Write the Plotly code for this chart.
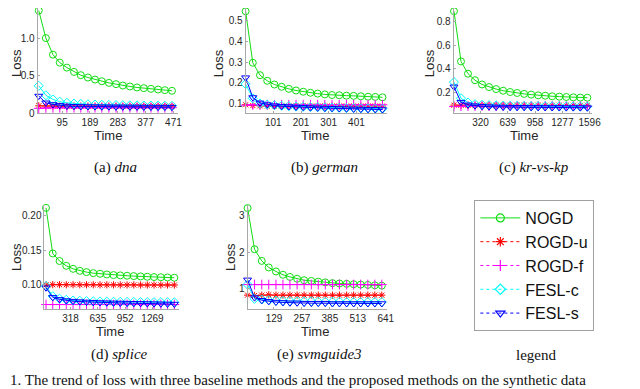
import plotly.graph_objects as go

W, H = 640, 389

methods = ["NOGD", "ROGD-u", "ROGD-f", "FESL-c", "FESL-s"]
colors = ["#11dd11", "#ff0000", "#ff00ff", "#00ffff", "#0000ff"]
symbols = ["circle-open", "asterisk-open", "cross-thin-open", "diamond-open", "triangle-down-open"]

# ---- (a) dna ----
dna_t = [16, 40, 64, 87, 111, 135, 158, 182, 206, 229, 253, 277, 300, 324, 348, 371, 395, 419, 442, 466]
dna_nogd = [1.366, 1.0, 0.78, 0.674, 0.608, 0.551, 0.507, 0.476, 0.449, 0.427, 0.405, 0.388, 0.37, 0.357, 0.344, 0.335, 0.326, 0.317, 0.308, 0.300]
dna_rogdu = [0.10, 0.097, 0.096, 0.095, 0.095, 0.095, 0.095, 0.095, 0.095, 0.095, 0.095, 0.095, 0.095, 0.095, 0.095, 0.095, 0.095, 0.095, 0.095, 0.095]
dna_rogdf = [0.066, 0.072, 0.074, 0.075, 0.075, 0.075, 0.075, 0.075, 0.075, 0.075, 0.075, 0.075, 0.075, 0.075, 0.075, 0.075, 0.075, 0.075, 0.075, 0.075]
dna_feslc = [0.366, 0.24, 0.185, 0.155, 0.14, 0.13, 0.125, 0.12, 0.117, 0.114, 0.112, 0.11, 0.108, 0.106, 0.105, 0.104, 0.103, 0.102, 0.101, 0.10]
dna_fesls = [0.23, 0.14, 0.118, 0.106, 0.098, 0.094, 0.092, 0.09, 0.089, 0.088, 0.087, 0.086, 0.086, 0.085, 0.085, 0.084, 0.084, 0.083, 0.083, 0.082]
dna_ticks = [95, 189, 283, 377, 471]
dna_yticks = [0, 0.5, 1.0]
dna_yticktext = ["0", "0.5", "1.0"]

# ---- (b) german ----
ger_t = [1, 27, 53, 79, 105, 131, 157, 183, 209, 235, 261, 287, 313, 339, 365, 391, 417, 443, 469, 495]
ger_nogd = [0.546, 0.297, 0.237, 0.21, 0.192, 0.181, 0.171, 0.163, 0.157, 0.152, 0.148, 0.144, 0.141, 0.14, 0.138, 0.137, 0.135, 0.133, 0.132, 0.13]
ger_rogdu = [0.094, 0.09, 0.089, 0.088, 0.088, 0.088, 0.088, 0.088, 0.088, 0.088, 0.088, 0.088, 0.088, 0.088, 0.088, 0.088, 0.088, 0.088, 0.088, 0.088]
ger_rogdf = [0.092, 0.094, 0.094, 0.094, 0.094, 0.094, 0.094, 0.094, 0.094, 0.094, 0.094, 0.094, 0.094, 0.094, 0.094, 0.094, 0.094, 0.094, 0.094, 0.094]
ger_feslc = [0.194, 0.125, 0.1, 0.095, 0.092, 0.089, 0.087, 0.085, 0.084, 0.083, 0.082, 0.081, 0.08, 0.079, 0.078, 0.078, 0.077, 0.076, 0.075, 0.075]
ger_fesls = [0.225, 0.129, 0.103, 0.095, 0.09, 0.087, 0.085, 0.083, 0.082, 0.08, 0.079, 0.078, 0.077, 0.076, 0.075, 0.074, 0.073, 0.072, 0.072, 0.071]
ger_ticks = [101, 201, 301, 401]
ger_yticks = [0.1, 0.2, 0.3, 0.4, 0.5]
ger_yticktext = ["0.1", "0.2", "0.3", "0.4", "0.5"]

# ---- (c) kr-vs-kp ----
kr_t = [9, 91, 173, 255, 337, 419, 502, 584, 666, 748, 830, 912, 994, 1076, 1158, 1241, 1323, 1405, 1487, 1569]
kr_nogd = [0.887, 0.462, 0.358, 0.303, 0.267, 0.245, 0.228, 0.214, 0.203, 0.195, 0.187, 0.181, 0.175, 0.172, 0.167, 0.164, 0.161, 0.158, 0.156, 0.155]
kr_rogdu = [0.092, 0.091, 0.09, 0.09, 0.09, 0.09, 0.09, 0.09, 0.09, 0.09, 0.09, 0.09, 0.09, 0.09, 0.09, 0.09, 0.09, 0.09, 0.09, 0.09]
kr_rogdf = [0.08, 0.083, 0.084, 0.084, 0.084, 0.084, 0.084, 0.084, 0.084, 0.084, 0.084, 0.084, 0.084, 0.084, 0.084, 0.084, 0.084, 0.084, 0.084, 0.084]
kr_feslc = [0.287, 0.15, 0.114, 0.1, 0.095, 0.092, 0.09, 0.088, 0.087, 0.086, 0.085, 0.084, 0.084, 0.083, 0.083, 0.082, 0.082, 0.081, 0.081, 0.08]
kr_fesls = [0.247, 0.117, 0.095, 0.087, 0.082, 0.079, 0.077, 0.076, 0.075, 0.074, 0.074, 0.073, 0.073, 0.072, 0.072, 0.072, 0.071, 0.071, 0.071, 0.07]
kr_ticks = [320, 639, 958, 1277, 1596]
kr_yticks = [0.2, 0.4, 0.6, 0.8]
kr_yticktext = ["0.2", "0.4", "0.6", "0.8"]

# ---- (d) splice ----
sp_t = [33, 111, 190, 268, 347, 425, 503, 582, 660, 739, 817, 895, 974, 1052, 1131, 1209, 1287, 1366, 1444, 1523]
sp_nogd = [0.2115, 0.145, 0.134, 0.127, 0.1226, 0.1197, 0.1178, 0.1163, 0.1154, 0.1144, 0.1135, 0.113, 0.1125, 0.112, 0.1115, 0.111, 0.1106, 0.1103, 0.110, 0.1096]
sp_rogdu = [0.099, 0.0995, 0.0995, 0.0994, 0.0994, 0.0993, 0.0993, 0.0993, 0.0992, 0.0992, 0.0992, 0.0991, 0.0991, 0.0991, 0.099, 0.099, 0.099, 0.099, 0.099, 0.099]
sp_rogdf = [0.0705, 0.0705, 0.0705, 0.0705, 0.0705, 0.0705, 0.0705, 0.0705, 0.0705, 0.0705, 0.0705, 0.0705, 0.0705, 0.0705, 0.0705, 0.0705, 0.0705, 0.0705, 0.0705, 0.0705]
sp_feslc = [0.0976, 0.0827, 0.079, 0.0774, 0.0764, 0.076, 0.0755, 0.0752, 0.075, 0.0748, 0.0746, 0.0745, 0.0744, 0.0743, 0.0742, 0.0741, 0.074, 0.074, 0.0739, 0.0738]
sp_fesls = [0.095, 0.081, 0.078, 0.0764, 0.0755, 0.0748, 0.0743, 0.0738, 0.0735, 0.0732, 0.073, 0.0728, 0.0726, 0.0724, 0.0722, 0.072, 0.0718, 0.0716, 0.0714, 0.0712]
sp_ticks = [318, 635, 952, 1269]
sp_yticks = [0.10, 0.15, 0.20]
sp_yticktext = ["0.10", "0.15", "0.20"]

# ---- (e) svmguide3 ----
svm_t = [8, 40, 73, 105, 138, 170, 202, 235, 267, 300, 332, 364, 397, 429, 462, 494, 526, 559, 591, 623]
svm_nogd = [3.21, 2.08, 1.76, 1.58, 1.47, 1.38, 1.32, 1.27, 1.23, 1.21, 1.19, 1.17, 1.15, 1.14, 1.13, 1.12, 1.11, 1.10, 1.09, 1.08]
svm_rogdu = [0.82, 0.81, 0.82, 0.83, 0.82, 0.82, 0.82, 0.82, 0.82, 0.82, 0.82, 0.82, 0.82, 0.82, 0.82, 0.82, 0.82, 0.82, 0.82, 0.82]
svm_rogdf = [1.11, 1.11, 1.11, 1.11, 1.11, 1.11, 1.11, 1.11, 1.11, 1.11, 1.11, 1.11, 1.11, 1.11, 1.11, 1.11, 1.11, 1.11, 1.11, 1.11]
svm_feslc = [1.11, 0.72, 0.70, 0.68, 0.67, 0.66, 0.66, 0.65, 0.65, 0.65, 0.64, 0.64, 0.64, 0.64, 0.63, 0.63, 0.63, 0.63, 0.63, 0.63]
svm_fesls = [1.24, 0.75, 0.68, 0.65, 0.63, 0.62, 0.61, 0.61, 0.60, 0.60, 0.60, 0.60, 0.59, 0.59, 0.59, 0.59, 0.59, 0.59, 0.59, 0.59]
svm_ticks = [129, 257, 385, 513, 641]
svm_yticks = [1, 2, 3]
svm_yticktext = ["1", "2", "3"]

captions = ["(a) <i>dna</i>", "(b) <i>german</i>", "(c) <i>kr-vs-kp</i>",
            "(d) <i>splice</i>", "(e) <i>svmguide3</i>", "legend"]
bottom_caption = "1. The trend of loss with three baseline methods and the proposed methods on the synthetic data"

panels = [
    dict(t=dna_t, ys=[dna_nogd, dna_rogdu, dna_rogdf, dna_feslc, dna_fesls], xt=dna_ticks,
         yt=dna_yticks, ytt=dna_yticktext, xpx=(30, 172), ypx=(0, 107), xr=[12, 485], yr=[0, 1.40]),
    dict(t=ger_t, ys=[ger_nogd, ger_rogdu, ger_rogdf, ger_feslc, ger_fesls], xt=ger_ticks,
         yt=ger_yticks, ytt=ger_yticktext, xpx=(241, 384), ypx=(0, 107), xr=[1, 510], yr=[0.0524, 0.562]),
    dict(t=kr_t, ys=[kr_nogd, kr_rogdu, kr_rogdf, kr_feslc, kr_fesls], xt=kr_ticks,
         yt=kr_yticks, ytt=kr_yticktext, xpx=(452, 592), ypx=(0, 107), xr=[5, 1620], yr=[0.0225, 0.914]),
    dict(t=sp_t, ys=[sp_nogd, sp_rogdu, sp_rogdf, sp_feslc, sp_fesls], xt=sp_ticks,
         yt=sp_yticks, ytt=sp_yticktext, xpx=(37, 173), ypx=(200, 306), xr=[15, 1572], yr=[0.0636, 0.2158]),
    dict(t=svm_t, ys=[svm_nogd, svm_rogdu, svm_rogdf, svm_feslc, svm_fesls], xt=svm_ticks,
         yt=svm_yticks, ytt=svm_yticktext, xpx=(243, 384), ypx=(200, 306), xr=[8, 645], yr=[0.432, 3.297]),
]

# label positions (pixels)
loss_pos = [(8, 56), (213, 56), (427, 56), (8, 253), (225, 253)]
time_pos = [(101, 130), (311, 130), (523, 130), (103, 329), (311, 329)]
cap_pos = [(109, 162), (321, 162), (533, 162), (113, 352), (316, 352), (536, 352)]

fig = go.Figure()
axis_color = "#a8a8a8"
tick_font = dict(family="Liberation Sans, Arial, sans-serif", size=10, color="#262626")

for i, p in enumerate(panels):
    k = "" if i == 0 else str(i + 1)
    for j in range(5):
        fig.add_trace(go.Scatter(
            x=p["t"], y=p["ys"][j], mode="lines+markers",
            line=dict(color=colors[j], width=1),
            marker=dict(symbol=symbols[j], size=7 if j != 1 else 6, color=colors[j], line=dict(width=1, color=colors[j])),
            xaxis="x" + k, yaxis="y" + k, showlegend=False, cliponaxis=False,
        ))
    x0, x1 = p["xpx"]
    t0, b0 = p["ypx"]
    fig.layout["xaxis" + k] = dict(
        domain=[x0 / W, x1 / W], range=p["xr"], anchor="y" + k,
        tickvals=p["xt"], ticktext=[str(v) for v in p["xt"]],
        showline=True, linecolor=axis_color, linewidth=1, showgrid=False, zeroline=False,
        ticks="inside", ticklen=2, tickcolor=axis_color, tickfont=tick_font,
    )
    fig.layout["yaxis" + k] = dict(
        domain=[1 - b0 / H, 1 - t0 / H], range=p["yr"], anchor="x" + k,
        tickvals=p["yt"], ticktext=p["ytt"],
        showline=True, linecolor=axis_color, linewidth=1, showgrid=False, zeroline=False,
        ticks="inside", ticklen=2, tickcolor=axis_color, tickfont=tick_font,
    )

# legend-only traces
for j in range(5):
    fig.add_trace(go.Scatter(
        x=[None], y=[None], mode="lines+markers", name=methods[j],
        line=dict(color=colors[j], width=1, dash="solid" if j == 0 else "dot"),
        marker=dict(symbol=symbols[j], size=8, color=colors[j], line=dict(width=1.2, color=colors[j])),
        xaxis="x", yaxis="y", showlegend=True, legendgroup=methods[j],
    ))

annotations = []
for (x, y) in loss_pos:
    annotations.append(dict(x=x / W, y=1 - y / H, xref="paper", yref="paper", text="Loss",
                            textangle=-90, showarrow=False, xanchor="center", yanchor="middle",
                            font=dict(family="Liberation Sans, Arial, sans-serif", size=13, color="#262626")))
for (x, y) in time_pos:
    annotations.append(dict(x=x / W, y=1 - y / H, xref="paper", yref="paper", text="Time",
                            showarrow=False, xanchor="center", yanchor="middle",
                            font=dict(family="Liberation Sans, Arial, sans-serif", size=13, color="#262626")))
for (x, y), c in zip(cap_pos, captions):
    annotations.append(dict(x=x / W, y=1 - y / H, xref="paper", yref="paper", text=c,
                            showarrow=False, xanchor="center", yanchor="middle",
                            font=dict(family="Liberation Serif, Times New Roman, serif", size=15, color="#111111")))
annotations.append(dict(x=0, y=1 - 388 / H, xref="paper", yref="paper", text=bottom_caption,
                        showarrow=False, xanchor="left", yanchor="bottom",
                        font=dict(family="Liberation Serif, Times New Roman, serif", size=15, color="#111111")))

fig.update_layout(
    width=W, height=H, margin=dict(l=0, r=0, t=0, b=0),
    paper_bgcolor="white", plot_bgcolor="white",
    annotations=annotations,
    legend=dict(x=473 / W, y=1 - 195 / H, xanchor="left", yanchor="top",
                bordercolor="#a0a0a0", borderwidth=1, bgcolor="white",
                font=dict(family="Liberation Sans, Arial, sans-serif", size=16, color="#111111"),
                itemwidth=40, tracegroupgap=3, traceorder="normal"),
)

fig.write_html("out.html")
